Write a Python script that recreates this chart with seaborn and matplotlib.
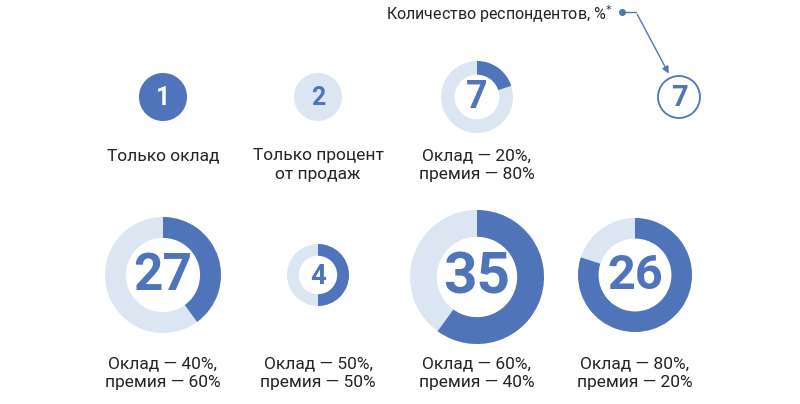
import matplotlib
matplotlib.use("Agg")
import matplotlib.pyplot as plt
from matplotlib.patches import Wedge, Circle
import seaborn as sns

sns.set_theme(style="white")

# data
values = [1, 2, 7, 27, 4, 35, 26]
salary_share = [100, 0, 20, 40, 50, 60, 80]  # % of ring filled dark
labels = ["Только оклад", "Только процент\nот продаж", "Оклад — 20%,\nпремия — 80%",
          "Оклад — 40%,\nпремия — 60%", "Оклад — 50%,\nпремия — 50%",
          "Оклад — 60%,\nпремия — 40%", "Оклад — 80%,\nпремия — 20%"]
legend_value = 7
legend_title = "Количество респондентов, %$^{*}$"

# layout (pixels)
centers = [(163, 97), (318, 97), (477, 97), (163, 275), (318, 275), (477, 277), (635, 275)]
radii = [24, 24, 36, 58, 31, 67, 57]
ring_frac = [1.0, 1.0, 0.38, 0.36, 0.38, 0.40, 0.36]
num_size = [18, 18, 27, 37, 20, 42, 35]
label_y = [148, 148, 148, 356, 356, 356, 356]

DARK = "#4f74b9"
LIGHT = "#dce6f2"
TEXT = "#222222"

fig = plt.figure(figsize=(8, 4.04), dpi=100)
ax = fig.add_axes([0, 0, 1, 1])
ax.set_xlim(0, 800)
ax.set_ylim(404, 0)
ax.set_aspect("equal")
ax.axis("off")

for v, s, lab, (cx, cy), r, rf, fs, ly in zip(values, salary_share, labels, centers,
                                               radii, ring_frac, num_size, label_y):
    w = r * rf
    ax.add_patch(Wedge((cx, cy), r, 0, 360, width=w, color=LIGHT, lw=0))
    if s > 0:
        # y axis inverted: start at 12 o'clock and go clockwise
        ax.add_patch(Wedge((cx, cy), r, 270, 270 + 360 * s / 100, width=w, color=DARK, lw=0))
    col = "white" if s == 100 else DARK
    ax.text(cx, cy + 1, str(v), ha="center", va="center", fontsize=fs,
            fontweight="bold", color=col, family="Roboto")
    ax.text(cx, ly, lab, ha="center", va="top", fontsize=12.5, color=TEXT,
            family="Roboto", linespacing=1.35)

# legend circle
lx, ly0 = 679, 97
ax.add_patch(Circle((lx, ly0), 21, facecolor="white", edgecolor=DARK, lw=1.3))
ax.text(lx, ly0 + 1, str(legend_value), ha="center", va="center", fontsize=21,
        fontweight="bold", color=DARK, family="Roboto")
ax.text(612, 14, legend_title, ha="right", va="center", fontsize=11.5,
        color=TEXT, family="Roboto")
ax.plot([622], [12], "o", color=DARK, ms=4)
ax.plot([622, 636], [12, 12], color=DARK, lw=1)
ax.annotate("", xy=(670, 76), xytext=(636, 12),
            arrowprops=dict(arrowstyle="-|>", color=DARK, lw=1, mutation_scale=10))

fig.savefig("out.png", dpi=100)
